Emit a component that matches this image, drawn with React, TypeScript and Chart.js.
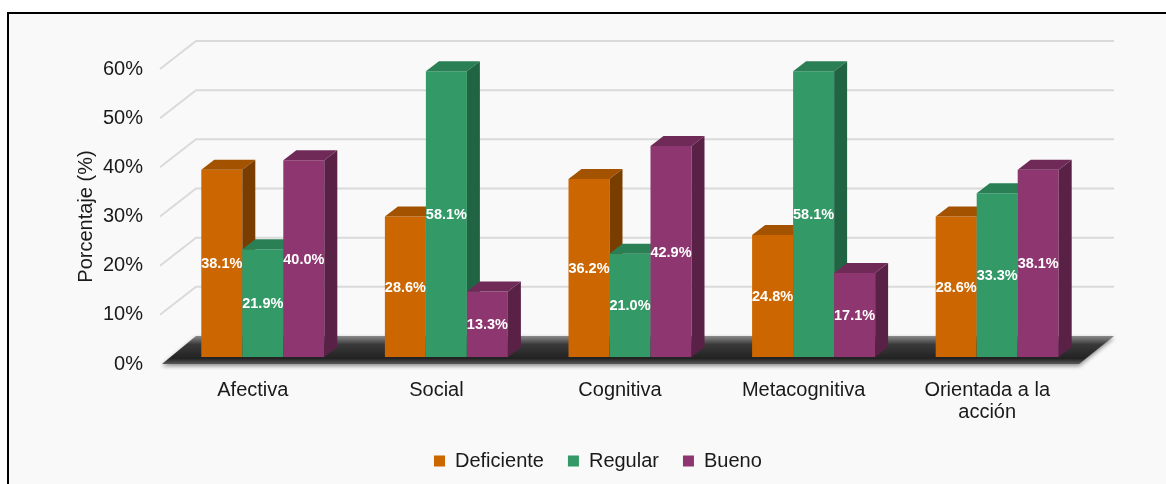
import React, { useEffect, useRef } from 'react';
import { Chart, registerables } from 'chart.js';

Chart.register(...registerables);

const categories: string[][] = [['Afectiva'], ['Social'], ['Cognitiva'], ['Metacognitiva'], ['Orientada a la', 'acción']];
const seriesNames = ['Deficiente', 'Regular', 'Bueno'];
const deficiente = [38.1, 28.6, 36.2, 24.8, 28.6];
const regular = [21.9, 58.1, 21.0, 58.1, 33.3];
const bueno = [40.0, 13.3, 42.9, 17.1, 38.1];
const yMin = 0;
const yMax = 60;
const yStep = 10;

const frontColors = ['#CC6600', '#339966', '#8E3670'];
const topColors = ['#A35200', '#2A7F55', '#702A58'];
const sideColors = ['#7A3D00', '#216444', '#5A2147'];

const FONT = '"Liberation Sans", Arial, sans-serif';
const WALL_DX = 35;
const WALL_DY = -28;
const SHIFT_X = 10;
const SHIFT_Y = -7;
const DEPTH_X = 13;
const DEPTH_Y = -10;
const LEGEND_LEFT = 116.8;

const threeDPlugin = {
  id: 'threeD',
  afterLayout(chart: any) {
    if (chart.legend) {
      chart.legend.left = LEGEND_LEFT;
    }
  },
  beforeDatasetsDraw(chart: any) {
    const { ctx, chartArea, scales } = chart;
    const y = scales.y;
    const left = chartArea.left;
    const right = chartArea.right;
    ctx.save();
    // back wall gridlines
    ctx.strokeStyle = '#dadada';
    ctx.lineWidth = 2;
    y.ticks.forEach((t: any) => {
      if (t.value === 0) return;
      const py = y.getPixelForValue(t.value);
      ctx.beginPath();
      ctx.moveTo(left - 1, py);
      ctx.lineTo(left + WALL_DX, py + WALL_DY);
      ctx.lineTo(right + WALL_DX, py + WALL_DY);
      ctx.stroke();
    });
    // floor
    const y0 = y.getPixelForValue(0);
    const g = ctx.createLinearGradient(0, y0 + WALL_DY, 0, y0);
    g.addColorStop(0, '#8a8a8a');
    g.addColorStop(0.3, '#3a3a3a');
    g.addColorStop(0.8, '#222222');
    g.addColorStop(1, '#5a5a5a');
    ctx.beginPath();
    ctx.moveTo(left + 1, y0);
    ctx.lineTo(left + WALL_DX, y0 + WALL_DY);
    ctx.lineTo(right + WALL_DX, y0 + WALL_DY);
    ctx.lineTo(right, y0);
    ctx.closePath();
    ctx.shadowColor = 'rgba(0,0,0,0.45)';
    ctx.shadowBlur = 4;
    ctx.shadowOffsetY = 2;
    ctx.fillStyle = g;
    ctx.fill();
    ctx.restore();
  },
  beforeDatasetDraw() {
    return false;
  },
  afterDatasetsDraw(chart: any) {
    const { ctx } = chart;
    const metas = chart.data.datasets.map((_: any, i: number) => chart.getDatasetMeta(i));
    ctx.save();
    ctx.translate(SHIFT_X, SHIFT_Y);
    for (let j = 0; j < categories.length; j++) {
      metas.forEach((meta: any, d: number) => {
        const bar = meta.data[j];
        if (!bar) return;
        bar.draw(ctx);
        const { x, y, base, width } = bar.getProps(['x', 'y', 'base', 'width'], true);
        const l = x - width / 2;
        const r = x + width / 2;
        // top face
        ctx.beginPath();
        ctx.moveTo(l, y);
        ctx.lineTo(l + DEPTH_X, y + DEPTH_Y);
        ctx.lineTo(r + DEPTH_X, y + DEPTH_Y);
        ctx.lineTo(r, y);
        ctx.closePath();
        ctx.fillStyle = topColors[d];
        ctx.fill();
        // side face
        ctx.beginPath();
        ctx.moveTo(r, y);
        ctx.lineTo(r + DEPTH_X, y + DEPTH_Y);
        ctx.lineTo(r + DEPTH_X, base + DEPTH_Y);
        ctx.lineTo(r, base);
        ctx.closePath();
        ctx.fillStyle = sideColors[d];
        ctx.fill();
      });
    }
    // data labels
    ctx.font = 'bold 14.5px ' + FONT;
    ctx.fillStyle = '#ffffff';
    ctx.textAlign = 'center';
    ctx.textBaseline = 'middle';
    metas.forEach((meta: any, d: number) => {
      const values = chart.data.datasets[d].data;
      meta.data.forEach((bar: any, j: number) => {
        const { x, y, base } = bar.getProps(['x', 'y', 'base'], true);
        ctx.fillText(Number(values[j]).toFixed(1) + '%', x, (y + base) / 2 + 1);
      });
    });
    ctx.restore();
  },
};

export default function App() {
  const ref = useRef<HTMLCanvasElement | null>(null);
  useEffect(() => {
    if (!ref.current) return;
    const chart = new Chart(ref.current, {
      type: 'bar',
      data: {
        labels: categories,
        datasets: [deficiente, regular, bueno].map((vals, i) => ({
          label: seriesNames[i],
          data: vals,
          backgroundColor: frontColors[i],
          borderWidth: 0,
          categoryPercentage: 0.67,
          barPercentage: 1,
        })),
      },
      options: {
        responsive: false,
        animation: false,
        devicePixelRatio: 1,
        layout: { padding: { top: 69, left: 0, right: 87, bottom: 3 } },
        plugins: {
          tooltip: { enabled: false },
          legend: {
            position: 'bottom',
            labels: {
              boxWidth: 11,
              boxHeight: 11,
              padding: 24,
              color: '#1a1a1a',
              font: { family: FONT, size: 20 },
              sort: (a: any, b: any) => a.datasetIndex - b.datasetIndex,
            },
          },
        },
        scales: {
          x: {
            grid: { display: false, drawTicks: false },
            border: { display: false },
            ticks: {
              color: '#1a1a1a',
              padding: 15,
              maxRotation: 0,
              autoSkip: false,
              font: { family: FONT, size: 20, lineHeight: 1.1 },
            },
            afterFit: (scale: any) => {
              scale.height = 63;
            },
          },
          y: {
            min: yMin,
            max: yMax,
            grid: { display: false, drawTicks: false },
            border: { display: false },
            ticks: {
              stepSize: yStep,
              color: '#1a1a1a',
              padding: 18,
              font: { family: FONT, size: 20 },
              callback: (v: any) => v + '%',
            },
            title: {
              display: true,
              text: 'Porcentaje (%)',
              color: '#1a1a1a',
              font: { family: FONT, size: 20, lineHeight: 1.2 },
              padding: { top: 74, bottom: 0 },
            },
            afterFit: (scale: any) => {
              scale.width = 161;
            },
          },
        },
      },
      plugins: [threeDPlugin],
    } as any);
    return () => chart.destroy();
  }, []);

  return (
    <>
      <div
        style={{
          position: 'fixed',
          left: 7,
          top: 12,
          width: 1200,
          height: 520,
          border: '2px solid #000',
          background: '#f9f9f9',
        }}
      />
      <canvas
        ref={ref}
        width={1166}
        height={484}
        style={{ position: 'fixed', left: 0, top: 0, width: 1166, height: 484 }}
      />
    </>
  );
}
